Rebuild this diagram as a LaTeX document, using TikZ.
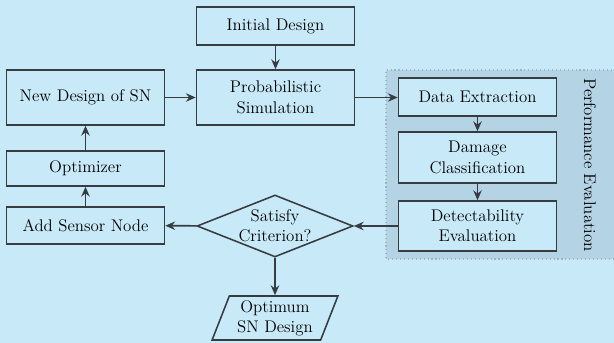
\documentclass[tikz,border=0pt]{standalone}
\usetikzlibrary{shapes.geometric,arrows.meta}
\definecolor{fond}{RGB}{200, 233, 248}
\definecolor{panneau}{RGB}{180, 211, 228}
\definecolor{trait}{RGB}{55, 60, 65}

\begin{document}
\begin{tikzpicture}[
		font=\fontsize{12}{14.5}\selectfont,
		boite/.style={draw=trait, line width=1.1pt, fill=fond, align=center, minimum width=3.95cm, inner sep=1pt},
		fleche/.style={draw=trait, line width=1.1pt, -{Stealth[length=7pt,width=6pt]}}
	]
			% fond
			\fill[fond] (0,0) rectangle (15.35,8.575);
			\useasboundingbox (0,0) rectangle (15.35,8.575);

			% evaluation
			\draw[panneau!80!trait, dotted, line width=0.8pt, fill=panneau] (15.4,6.825) -- (9.65,6.825) -- (9.65,2.1) -- (15.4,2.1);
			\node[rotate=-90] (perf) at (14.75,4.45) {Performance Evaluation};

			% boites
			\node[boite, minimum height=0.95cm] (init) at (6.8875,7.925) {Initial Design};
			\node[boite, minimum height=1.375cm] (simu) at (6.8875,6.1375) {Probabilistic\\Simulation};
			\node[boite, minimum height=1.375cm] (nouv) at (2.1375,6.1375) {New Design of SN};
			\node[boite, minimum height=0.875cm] (optim) at (2.1375,4.3625) {Optimizer};
			\node[boite, minimum height=0.925cm] (ajout) at (2.1375,2.9375) {Add Sensor Node};

			\node[boite, minimum height=0.95cm] (extr) at (11.9375,6.15) {Data Extraction};
			\node[boite, minimum height=1.275cm] (dmg) at (11.9375,4.6375) {Damage\\Classification};
			\node[boite, minimum height=1.25cm] (detec) at (11.9375,2.925) {Detectability\\Evaluation};

			\node[boite, diamond, aspect=2.5, inner sep=0pt, minimum width=3.9cm, minimum height=1.55cm] (crit) at (6.875,2.925) {Satisfy\\Criterion?};
			\node[boite, trapezium, trapezium left angle=69, trapezium right angle=111, trapezium stretches=true, minimum width=3.15cm, minimum height=1.1cm] (optimum) at (6.875,0.625) {Optimum\\SN Design};

			% fleches
			\draw[fleche] (init) -- (simu);
			\draw[fleche] (nouv) -- (simu);
			\draw[fleche] (simu.east) -- (simu.east -| extr.west);
			\draw[fleche] (extr) -- (dmg);
			\draw[fleche] (dmg) -- (detec);
			\draw[fleche] (detec) -- (crit);
			\draw[fleche] (crit) -- (ajout);
			\draw[fleche] (ajout) -- (optim);
			\draw[fleche] (optim) -- (nouv);
			\draw[fleche] (crit) -- (optimum);
		\end{tikzpicture}
\end{document}
